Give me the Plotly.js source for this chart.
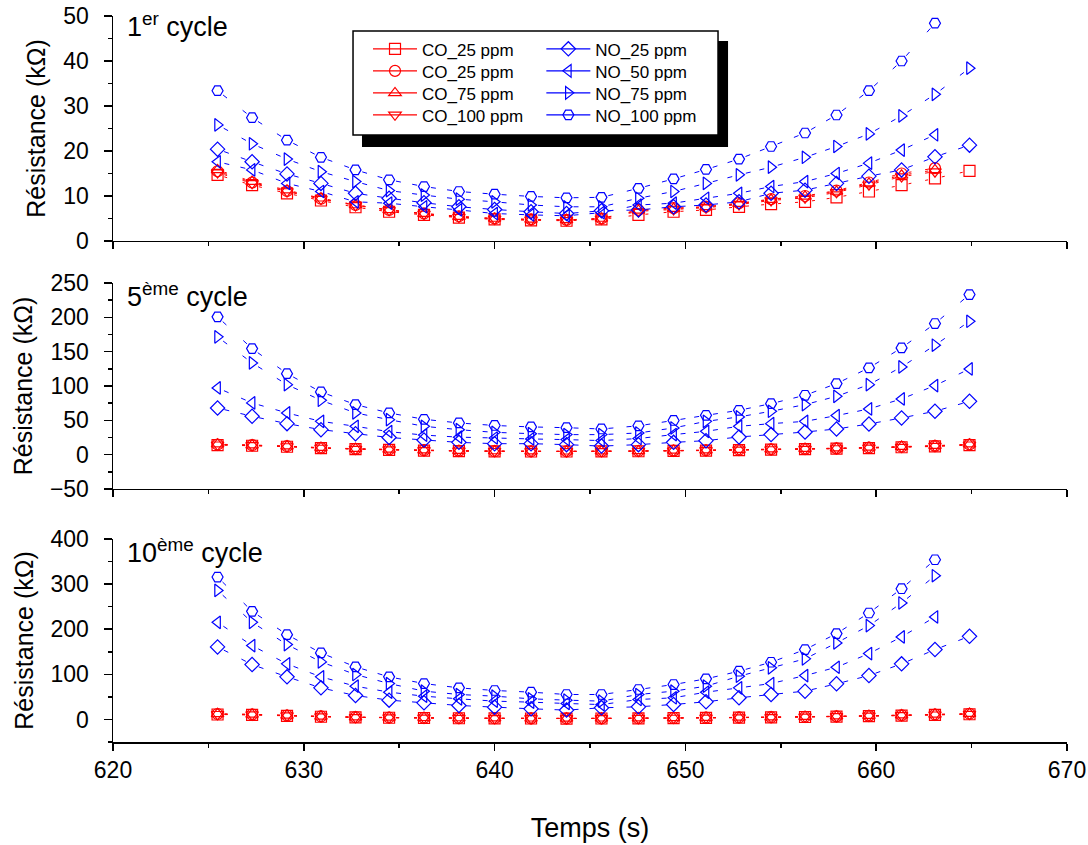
<!DOCTYPE html>
<html><head><meta charset="utf-8">
<script src="https://cdn.plot.ly/plotly-3.0.1.min.js"></script>
<style>html,body{margin:0;padding:0;background:#fff;} #chart{width:1088px;height:845px;}</style>
</head><body><div id="chart"></div>
<script>
// Time axis (s)
const time = [625.48,627.29,629.12,630.90,632.71,634.47,636.30,638.13,640.00,641.91,643.77,645.60,647.54,649.38,651.08,652.81,654.49,656.27,657.92,659.62,661.33,663.08,664.89];

const seriesNames = ['CO_25 ppm','CO_25 ppm','CO_75 ppm','CO_100 ppm','NO_25 ppm','NO_50 ppm','NO_75 ppm','NO_100 ppm'];
const panelLabels = ['1<sup>er</sup> cycle','5<sup>ème</sup> cycle','10<sup>ème</sup> cycle'];

// 1er cycle (kΩ)
const c1_CO25a = [14.7,12.4,10.6,9.0,7.5,6.5,5.8,5.2,4.8,4.6,4.5,4.8,5.8,6.5,6.9,7.6,8.2,8.7,9.7,11.0,12.4,13.9,15.6];
const c1_CO25b = [15.5,13.0,11.1,9.4,8.0,6.9,6.1,5.5,5.0,4.8,4.7,5.0,6.9,7.3,7.6,8.4,9.3,10.0,11.2,13.0,15.0,16.2,null];
const c1_CO75  = [15.8,13.2,11.3,9.5,8.0,6.9,6.1,5.4,5.0,4.8,4.7,5.0,6.8,7.2,7.6,8.3,9.2,9.9,11.0,12.8,14.6,15.8,null];
const c1_CO100 = [15.2,12.8,11.0,9.3,7.9,6.8,6.0,5.3,4.9,4.7,4.6,4.9,6.6,7.0,7.4,8.1,9.0,9.6,10.8,12.5,14.3,15.4,null];
const c1_NO25  = [20.4,17.6,14.9,12.8,10.6,9.5,8.5,7.6,7.0,6.5,6.1,6.7,6.9,7.6,8.0,8.7,10.6,11.3,12.8,14.4,15.8,18.7,21.3];
const c1_NO50  = [17.6,15.8,12.8,11.0,8.7,8.4,7.6,6.9,6.1,5.8,5.6,6.3,8.0,8.4,9.5,10.6,12.1,13.2,15.0,17.3,20.2,23.6,null];
const c1_NO75  = [25.8,21.6,18.2,15.4,13.2,11.2,10.2,9.3,8.7,8.0,7.6,7.6,9.5,11.0,12.8,14.7,16.4,18.6,21.0,23.8,27.8,32.6,38.4];
const c1_NO100 = [33.4,27.4,22.4,18.6,15.8,13.6,12.1,11.0,10.4,9.9,9.6,9.7,11.7,13.8,15.9,18.2,21.0,24.0,28.0,33.4,40.0,48.4,null];

// 5ème cycle (kΩ)
const c5_CO25a = [14.0,13.0,11.5,9.5,8.0,7.0,6.0,5.2,4.8,4.6,4.6,4.7,5.0,5.5,6.0,6.7,7.3,8.0,8.7,9.6,10.8,12.0,14.0];
const c5_CO25b = [14.8,13.8,12.3,9.9,8.5,7.5,6.5,5.6,5.1,4.9,4.9,5.0,5.3,5.9,6.4,7.1,7.8,8.5,9.2,10.2,11.5,12.8,14.8];
const c5_CO75  = [15.2,14.0,12.5,10.2,8.7,7.6,6.6,5.8,5.3,5.1,5.0,5.2,5.5,6.1,6.6,7.3,8.0,8.7,9.5,10.5,11.8,13.1,15.2];
const c5_CO100 = [14.4,13.4,11.9,9.7,8.2,7.2,6.2,5.4,5.0,4.8,4.7,4.9,5.2,5.7,6.2,6.9,7.5,8.2,9.0,9.9,11.1,12.4,14.4];
const c5_NO25  = [68,55.9,45.2,36.4,30.6,25.0,21.4,17.9,16.0,16.0,14.6,12.5,14.6,17.9,20.4,25.8,29.2,33.0,37.4,44.7,53.5,63.2,77.7];
const c5_NO50  = [97.2,75.4,60.8,48.5,41.3,33.5,28.5,25.5,24.3,22.9,21.9,20.5,23.5,29.2,34.0,41.3,45.2,48.5,56.9,66.6,81.2,100.6,124.9];
const c5_NO75  = [171.6,133.6,102,79.2,60.8,51.0,41.3,36.4,32.5,30.6,29.2,29.2,31.6,38.9,48.5,55.0,63.2,72.9,85.0,102,127.8,159.4,194.3];
const c5_NO100 = [200.7,154.5,118,91.4,72.9,60.8,51.5,46.2,42.5,40.4,39.3,37.4,42.0,49.8,57.3,64.6,74.3,86.5,103.5,126.4,155.5,191,233.2];

// 10ème cycle (kΩ)
const c10_CO25a = [11.0,10.0,8.0,6.0,4.5,3.8,3.2,2.7,2.3,2.1,2.0,2.1,2.5,3.0,3.5,4.0,4.6,5.4,6.3,7.3,8.5,10.0,11.5];
const c10_CO25b = [12.0,11.0,8.8,6.6,5.0,4.2,3.6,3.0,2.6,2.4,2.3,2.4,2.8,3.3,3.9,4.4,5.0,5.9,6.9,8.0,9.3,10.9,12.5];
const c10_CO75  = [12.5,11.4,9.2,6.9,5.3,4.4,3.8,3.2,2.8,2.6,2.5,2.6,3.0,3.5,4.1,4.6,5.3,6.2,7.2,8.4,9.7,11.3,13.0];
const c10_CO100 = [11.5,10.5,8.4,6.3,4.8,4.0,3.4,2.9,2.5,2.3,2.2,2.3,2.7,3.2,3.7,4.2,4.8,5.7,6.6,7.7,8.9,10.4,12.0];
const c10_NO25  = [160.8,121.7,94.4,70,53,42.8,36.9,31,27.3,23.6,20.7,25.8,28,33.2,39.1,48,55.3,62.7,79,97.3,123.2,154.9,184.3];
const c10_NO50  = [215.3,163.7,123.2,94.4,73.7,60.5,51.6,45.7,40.6,38.3,35.4,33,44.2,48,60.5,70,79.6,97.3,115.7,146,183,227.2,null];
const c10_NO75  = [286,215.3,166,127.6,99.6,79.6,62.7,55.3,51.6,45.7,42.8,40.6,55.3,62.7,73.7,95.9,114.4,134.3,169.7,208,258.2,318.6,null];
const c10_NO100 = [315.7,239.6,188,147.5,116.5,94.4,79.6,70,64.2,60.5,55.3,55.3,66.4,77.4,90,106.9,126.8,154.9,190.3,236,289.8,354,null];

const RED = 'rgb(255,0,0)', BLUE = 'rgb(0,0,255)';
const symbols = ['square-open','circle-open','triangle-up-open','triangle-down-open','diamond-open','triangle-left-open','triangle-right-open','hexagon2-open'];
const colors = [RED,RED,RED,RED,BLUE,BLUE,BLUE,BLUE];
const dashes = ['0px,7px,3px,4000px','0px,7px,3px,4000px','0px,7px,3px,4000px','0px,7px,3px,4000px',
                '0px,7px,5px,4000px','0px,7px,5px,4000px','0px,7px,5px,4000px','0px,7px,5px,4000px'];

const panels = [
  {xa:'x3', ya:'y3', data:[c1_CO25a,c1_CO25b,c1_CO75,c1_CO100,c1_NO25,c1_NO50,c1_NO75,c1_NO100]},
  {xa:'x2', ya:'y2', data:[c5_CO25a,c5_CO25b,c5_CO75,c5_CO100,c5_NO25,c5_NO50,c5_NO75,c5_NO100]},
  {xa:'x',  ya:'y',  data:[c10_CO25a,c10_CO25b,c10_CO75,c10_CO100,c10_NO25,c10_NO50,c10_NO75,c10_NO100]}
];

// Segments drawn from each end so the short dash sits next to each symbol (gap around symbols)
function segments(xs, ys){
  const sx = [], sy = [];
  for(let i = 0; i < xs.length - 1; i++){
    if(ys[i] == null || ys[i+1] == null) continue;
    sx.push(xs[i], xs[i+1], null, xs[i+1], xs[i], null);
    sy.push(ys[i], ys[i+1], null, ys[i+1], ys[i], null);
  }
  return {sx, sy};
}

const traces = [];
panels.forEach(p => {
  p.data.forEach((ys, k) => {
    const s = segments(time, ys);
    traces.push({type:'scatter', mode:'lines', x:s.sx, y:s.sy, xaxis:p.xa, yaxis:p.ya,
      connectgaps:false, showlegend:false, hoverinfo:'skip',
      line:{color:colors[k], width:1, dash:dashes[k]}});
  });
  p.data.forEach((ys, k) => {
    traces.push({type:'scatter', mode:'markers', x:time, y:ys, xaxis:p.xa, yaxis:p.ya,
      showlegend:false, name:seriesNames[k],
      marker:{symbol:symbols[k], size:11, color:colors[k], line:{color:colors[k], width:1.2}}});
  });
});

const F = 'Liberation Sans, Arial, sans-serif';
// one legend per entry so the row spacing matches the boxed legend
const legendLayouts = {};
const rowY = [0.9789, 0.9486, 0.9183, 0.8880];
seriesNames.forEach((n, k) => {
  const key = k === 0 ? 'legend' : 'legend' + (k + 1);
  traces.push({type:'scatter', mode:'lines+markers', x:[null], y:[null], name:n,
    legend:key, showlegend:true, xaxis:'x3', yaxis:'y3', hoverinfo:'skip',
    line:{color:colors[k], width:1.2},
    marker:{symbol:symbols[k], size:11, color:colors[k], line:{color:colors[k], width:1.2}}});
  legendLayouts[key] = {x: k < 4 ? 0.2673 : 0.449, y: rowY[k % 4], xanchor:'left', yanchor:'top',
    bgcolor:'rgba(0,0,0,0)', borderwidth:0, font:{size:17, family:F, color:'#000'}, itemwidth:44};
});

function yax(range, dtick, minor, domain, anchor){
  return {domain, anchor, range, dtick, tick0:0, ticks:'outside', ticklen:8, tickwidth:1.5, tickcolor:'#000',
    showline:true, linecolor:'#000', linewidth:1.5, showgrid:false, zeroline:false, ticklabelstandoff:10,
    minor:{dtick:minor, ticks:'outside', ticklen:4, tickwidth:1.5, tickcolor:'#000', showgrid:false},
    tickfont:{size:23, color:'#000'},
    title:{text:'Résistance (kΩ)', font:{size:25, color:'#000'}, standoff:10}};
}
function xax(anchor, labels){
  const a = {domain:[0,1], anchor, range:[620,670], dtick:10, tick0:620, ticks:'outside', ticklen:7, tickwidth:1.5, tickcolor:'#000',
    showline:true, linecolor:'#000', linewidth:1.5, showgrid:false, zeroline:false, showticklabels:labels,
    minor:{dtick:5, ticks:'outside', ticklen:4, tickwidth:1.5, tickcolor:'#000', showgrid:false},
    tickfont:{size:23, color:'#000'}};
  if(anchor !== 'y') a.matches = 'x';
  if(labels) a.title = {text:'Temps (s)', font:{size:27, color:'#000'}, standoff:36};
  return a;
}

const layout = Object.assign({
  width:1088, height:845, paper_bgcolor:'#fff', plot_bgcolor:'rgba(0,0,0,0)',
  font:{family:F, color:'#000'},
  margin:{l:113, r:21, t:16, b:103},
  xaxis: xax('y', true),
  xaxis2: xax('y2', false),
  xaxis3: xax('y3', false),
  yaxis: yax([-50,400], 100, 50, [0,0.2796], 'x'),
  yaxis2: yax([-50,250], 50, 25, [0.3485,0.6322], 'x2'),
  yaxis3: yax([0,50], 10, 5, [0.6901,1], 'x3'),
  shapes:[
    {type:'rect', xref:'paper', yref:'paper', x0:0.2610, x1:0.6447, y0:0.8196, y1:0.9656, fillcolor:'#000', line:{width:0}, layer:'above'},
    {type:'rect', xref:'paper', yref:'paper', x0:0.2516, x1:0.6342, y0:0.8361, y1:0.9793, fillcolor:'#fff', line:{color:'#000', width:1.5}, layer:'above'}
  ],
  annotations:[
    {xref:'paper', yref:'paper', x:0.0126, y:0.9876, xanchor:'left', yanchor:'middle', text:panelLabels[0], showarrow:false, font:{size:27, color:'#000'}},
    {xref:'paper', yref:'paper', x:0.0126, y:0.6157, xanchor:'left', yanchor:'middle', text:panelLabels[1], showarrow:false, font:{size:27, color:'#000'}},
    {xref:'paper', yref:'paper', x:0.0126, y:0.2631, xanchor:'left', yanchor:'middle', text:panelLabels[2], showarrow:false, font:{size:27, color:'#000'}}
  ]
}, legendLayouts);

Plotly.newPlot('chart', traces, layout, {displayModeBar:false, staticPlot:true});
</script>
</body></html>
